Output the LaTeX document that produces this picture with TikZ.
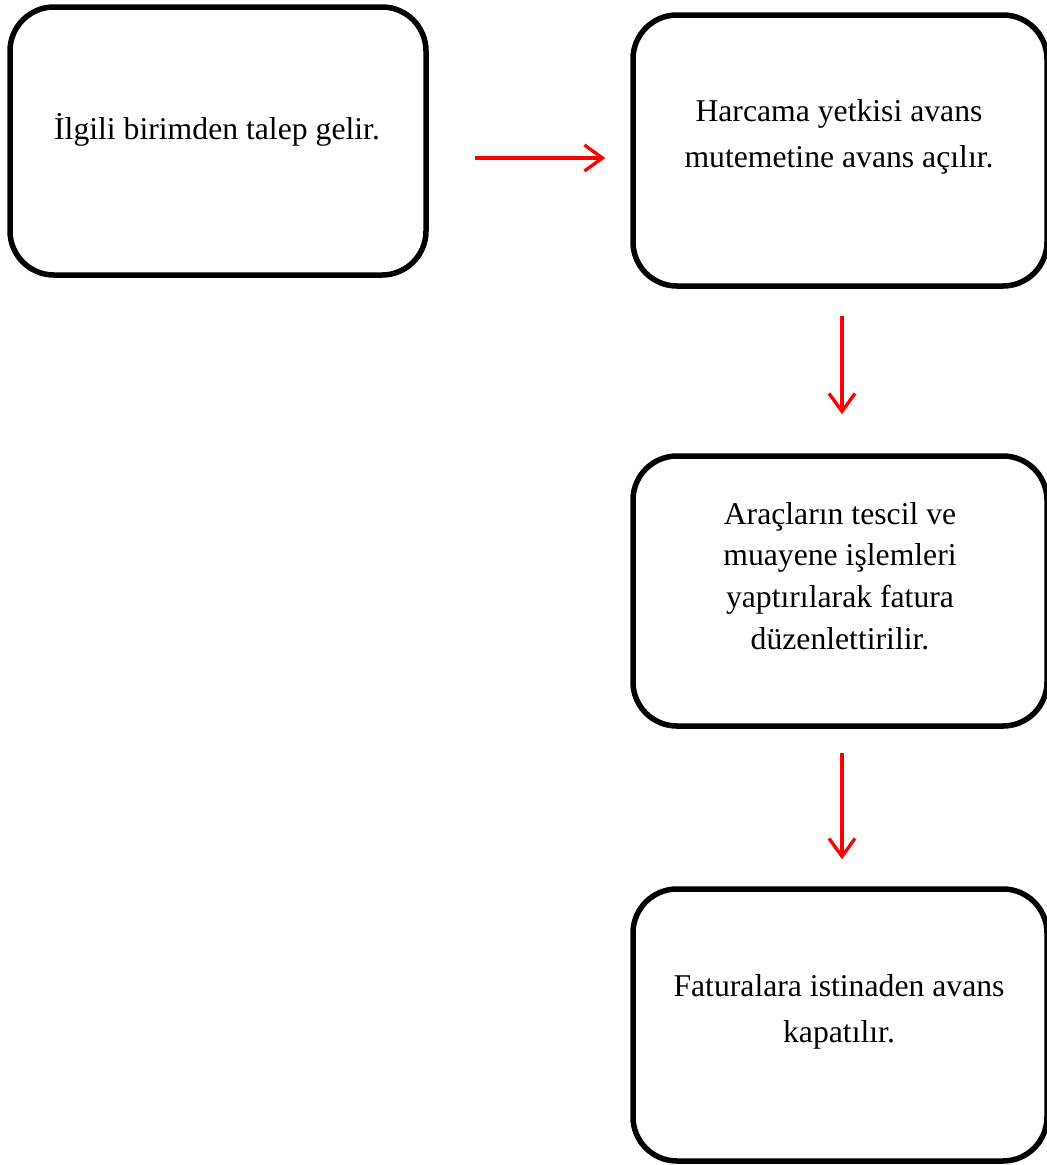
\documentclass[tikz,border=0pt]{standalone}
\usepackage{fontspec}
\setmainfont{Liberation Serif}
\usetikzlibrary{arrows.meta,calc}

\begin{document}
\begin{tikzpicture}[x=1pt,y=-1pt,
  stepbox/.style={draw=black, line width=5.5pt, rounded corners=44pt,
    inner sep=0pt, minimum width=414pt},
  steptext/.style={anchor=north, inner sep=0pt, align=center,
    font=\fontsize{31.7}{46}\selectfont},
  flow/.style={draw=red, line width=3.3pt,
    -{Straight Barb[length=18pt,width=26pt,line width=3.3pt]}}]
  % page frame
  \useasboundingbox (0,0) rectangle (1047,1165);

  % process boxes
  \node[stepbox, minimum width=416pt, minimum height=268pt] (b1) at (218,141) {};
  \node[stepbox, minimum height=271pt] (b2) at (840,150.5) {};
  \node[stepbox, minimum height=270pt] (b3) at (840,591) {};
  \node[stepbox, minimum height=272pt] (b4) at (840,1025) {};

  % box texts
  \node[steptext] (t1) at (217,113) {İlgili birimden talep gelir.};
  \node[steptext] (t2) at (839,99) {Harcama yetkisi avans\\mutemetine avans açılır.};
  \node[steptext, font=\fontsize{31.7}{41.7}\selectfont] (t3) at (840,502)
    {Araçların tescil ve\\muayene işlemleri\\yaptırılarak fatura\\düzenlettirilir.};
  \node[steptext] (t4) at (839,974) {Faturalara istinaden avans\\kapatılır.};

  % flow arrows
  \draw[flow] ($(b1.east)+(46,17)$) -- ($(b2.west)+(-25,7.5)$);
  \draw[flow] ($(b2.south)+(2,27)$) -- ($(b3.north)+(2,-39)$);
  \draw[flow] ($(b3.south)+(2,24)$) -- ($(b4.north)+(2,-27)$);
\end{tikzpicture}
\end{document}
